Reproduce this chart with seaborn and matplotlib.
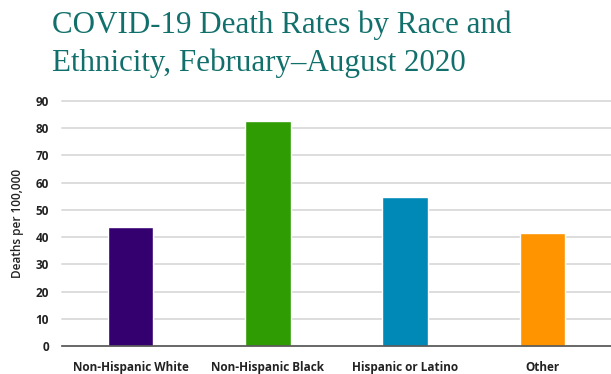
import matplotlib
matplotlib.use("Agg")
import matplotlib.pyplot as plt
import seaborn as sns
import pandas as pd

# Deaths per 100,000 by group
groups = ["Non-Hispanic White", "Non-Hispanic Black", "Hispanic or Latino", "Other"]
rates = [43.7, 82.5, 54.9, 41.4]
bar_colors = ["#340070", "#2e9c02", "#0088b6", "#ff9400"]
y_ticks = [0, 10, 20, 30, 40, 50, 60, 70, 80, 90]

df = pd.DataFrame({"group": groups, "rate": rates})

sns.set_theme(style="white")
plt.rcParams["font.family"] = ["Open Sans", "DejaVu Sans"]

fig = plt.figure(figsize=(6.11, 3.74), dpi=100)
ax = fig.add_axes([62 / 611, 28 / 374, 1 - 62 / 611, (346 - 101) / 374])

sns.barplot(data=df, x="group", y="rate", hue="group", palette=bar_colors,
            width=0.33, legend=False, ax=ax, saturation=1)

ax.set_ylim(0, 90)
ax.set_yticks(y_ticks)
ax.set_xlim(-0.5, 3.5)
ax.yaxis.grid(True, color="#dddddd", linewidth=1.4)
ax.set_axisbelow(True)
for g in ax.get_ygridlines():
    g.set_clip_on(False)

for side in ["top", "right", "left"]:
    ax.spines[side].set_visible(False)
ax.spines["bottom"].set_color("#555555")
ax.spines["bottom"].set_linewidth(1.2)

ax.tick_params(axis="both", length=0, labelsize=8.5, colors="#222222")
ax.tick_params(axis="y", pad=9.5)
ax.tick_params(axis="x", pad=10.5)
for lab in ax.get_xticklabels() + ax.get_yticklabels():
    lab.set_fontweight("bold")

ax.set_xlabel("")
ax.set_ylabel("Deaths per 100,000", fontsize=8.5, fontweight="semibold", color="#222222")
ax.yaxis.set_label_coords(-(62 - 24) / 549, 0.5)

fig.text(52 / 611, 1 - 10 / 374,
         "COVID-19 Death Rates by Race and\nEthnicity, February\u2013August 2020",
         fontsize=22.3, family=["Liberation Serif", "DejaVu Serif"], color="#11706b",
         va="top", ha="left", linespacing=1.42)

fig.savefig("out.png", dpi=100)
